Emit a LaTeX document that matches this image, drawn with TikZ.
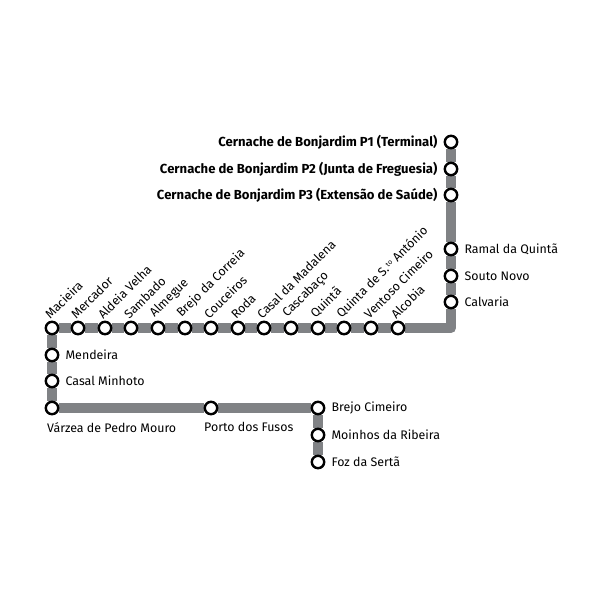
\documentclass[tikz,border=0pt]{standalone}
\usepackage{fontspec}
\setmainfont{Fira Sans}
\usetikzlibrary{positioning}
\usetikzlibrary{backgrounds}
\definecolor{linegray}{RGB}{128, 130, 133}
\tikzset{
	halt/.style={circle, draw=black, fill=white, line width=2.4pt, minimum size=12.4pt, inner sep=0pt},
	route/.style={draw=linegray, line width=10pt, line join=round},
	stopname/.style={font=\fontsize{12.4}{14}\selectfont, inner sep=0pt, text=black},
	boldname/.style={stopname, font=\fontsize{13.1}{14}\selectfont\bfseries},
	tilted/.style={stopname, rotate=45, anchor=south west}
}
\newcommand{\tiltname}[2]{\node[tilted] (#1-lab) at ([xshift=-1.5pt,yshift=8pt]#1) {#2}} % {stop}{label}
\begin{document}
\begin{tikzpicture}[x=1pt,y=-1pt]
	\useasboundingbox (0,0) rectangle (606,606);
	% right branch
	\node[halt] (cernacheA) at (451,142) {};
	\node[halt] (cernacheB) at (451,169) {};
	\node[halt] (cernacheC) at (451,195) {};
	\node[halt] (ramal) at (451,249) {};
	\node[halt] (souto) at (451,276) {};
	\node[halt] (calvaria) at (451,302) {};
	\coordinate (corner) at (451,328);
	% main row
	\node[halt] (alcobia) at (398,328) {};
	\node[halt] (ventoso) at (371,328) {};
	\node[halt] (quintaSA) at (344,328) {};
	\node[halt] (quinta) at (318,328) {};
	\node[halt] (cascabaco) at (291,328) {};
	\node[halt] (madalena) at (264,328) {};
	\node[halt] (roda) at (238,328) {};
	\node[halt] (couceiros) at (211,328) {};
	\node[halt] (brejoC) at (185,328) {};
	\node[halt] (almegue) at (158,328) {};
	\node[halt] (sambado) at (131,328) {};
	\node[halt] (aldeia) at (105,328) {};
	\node[halt] (mercador) at (78,328) {};
	\node[halt] (macieira) at (52,328) {};
	% left branch and bottom row
	\node[halt] (mendeira) at (52,355) {};
	\node[halt] (minhoto) at (52,381) {};
	\node[halt] (varzea) at (52,408) {};
	\node[halt] (porto) at (211,408) {};
	\node[halt] (brejoM) at (318,408) {};
	\node[halt] (moinhos) at (318,435) {};
	\node[halt] (foz) at (318,462) {};

	\begin{scope}[on background layer]
		\draw[route] (cernacheA) -- (cernacheB) -- (cernacheC) -- (ramal) -- (souto) -- (calvaria) -- (corner) -- (alcobia);
		\draw[route] (alcobia) -- (ventoso) -- (quintaSA) -- (quinta) -- (cascabaco) -- (madalena) -- (roda) -- (couceiros) -- (brejoC) -- (almegue) -- (sambado) -- (aldeia) -- (mercador) -- (macieira);
		\draw[route] (macieira) -- (mendeira) -- (minhoto) -- (varzea) -- (porto) -- (brejoM) -- (moinhos) -- (foz);
	\end{scope}

	\node[boldname, left=6pt of cernacheA] (cernacheA-lab) {Cernache de Bonjardim P1 (Terminal)};
	\node[boldname, left=6pt of cernacheB] (cernacheB-lab) {Cernache de Bonjardim P2 (Junta de Freguesia)};
	\node[boldname, left=6pt of cernacheC] (cernacheC-lab) {Cernache de Bonjardim P3 (Extensão de Saúde)};
	\node[stopname, right=6pt of ramal] (ramal-lab) {Ramal da Quintã};
	\node[stopname, right=6pt of souto] (souto-lab) {Souto Novo};
	\node[stopname, right=6pt of calvaria] (calvaria-lab) {Calvaria};
	\node[stopname, right=6pt of mendeira] (mendeira-lab) {Mendeira};
	\node[stopname, right=6pt of minhoto] (minhoto-lab) {Casal Minhoto};
	\node[stopname, below=7pt of varzea.south, anchor=north west, xshift=-5pt] (varzea-lab) {Várzea de Pedro Mouro};
	\node[stopname, below=7pt of porto.south, anchor=north west, xshift=-7pt] (porto-lab) {Porto dos Fusos};
	\node[stopname, right=6pt of brejoM] (brejoM-lab) {Brejo Cimeiro};
	\node[stopname, right=6pt of moinhos] (moinhos-lab) {Moinhos da Ribeira};
	\node[stopname, right=6pt of foz] (foz-lab) {Foz da Sertã};

	\tiltname{macieira}{Macieira};
	\tiltname{mercador}{Mercador};
	\tiltname{aldeia}{Aldeia Velha};
	\tiltname{sambado}{Sambado};
	\tiltname{almegue}{Almegue};
	\tiltname{brejoC}{Brejo da Correia};
	\tiltname{couceiros}{Couceiros};
	\tiltname{roda}{Roda};
	\tiltname{madalena}{Casal da Madalena};
	\tiltname{cascabaco}{Cascabaço};
	\tiltname{quinta}{Quintã};
	\tiltname{quintaSA}{Quinta de S.\raisebox{3pt}{\fontsize{7}{7}\selectfont\,to} António};
	\tiltname{ventoso}{Ventoso Cimeiro};
	\tiltname{alcobia}{Alcobia};
\end{tikzpicture}
\end{document}
